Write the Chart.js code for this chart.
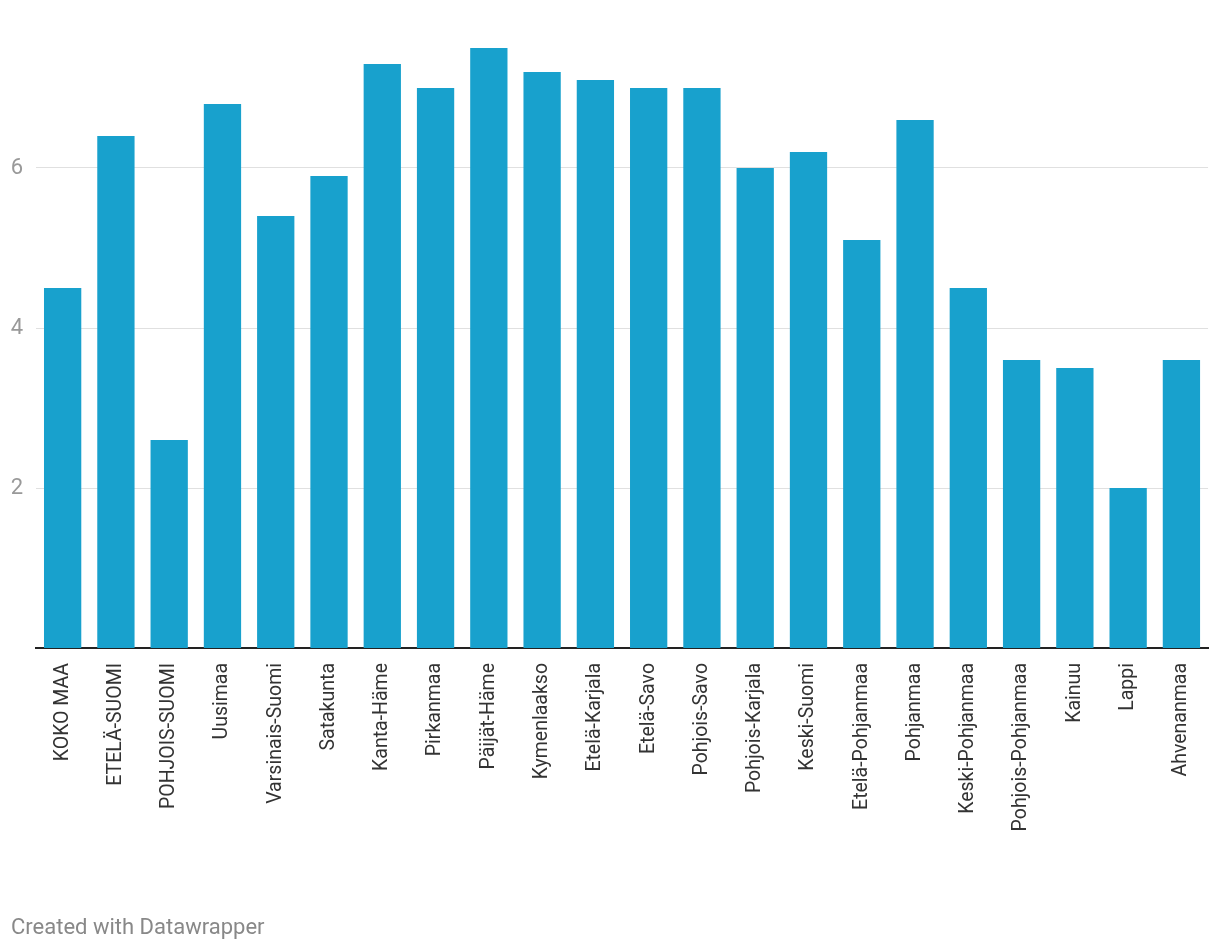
<!DOCTYPE html>
<html>
<head>
<meta charset="utf-8">
<script src="https://cdn.jsdelivr.net/npm/chart.js@4"></script>
<style>
  html, body { margin: 0; padding: 0; background: #fff; }
  #wrap { position: relative; width: 1220px; height: 952px; }
  #footer { position: absolute; left: 11px; top: 914px; font: 22px Roboto, sans-serif; color: #888; }
</style>
</head>
<body>
<div id="wrap">
  <canvas id="chart" width="1220" height="952"></canvas>
  <div id="footer">Created with Datawrapper</div>
</div>
<script>
// =======================
// Data
// =======================
const regions = [
  "KOKO MAA", "ETELÄ-SUOMI", "POHJOIS-SUOMI", "Uusimaa", "Varsinais-Suomi", "Satakunta",
  "Kanta-Häme", "Pirkanmaa", "Päijät-Häme", "Kymenlaakso", "Etelä-Karjala", "Etelä-Savo",
  "Pohjois-Savo", "Pohjois-Karjala", "Keski-Suomi", "Etelä-Pohjanmaa", "Pohjanmaa",
  "Keski-Pohjanmaa", "Pohjois-Pohjanmaa", "Kainuu", "Lappi", "Ahvenanmaa"
];
const values = [4.5, 6.4, 2.6, 6.8, 5.4, 5.9, 7.3, 7.0, 7.5, 7.2, 7.1, 7.0, 7.0, 6.0, 6.2, 5.1, 6.6, 4.5, 3.6, 3.5, 2.0, 3.6];
const yTicks = [2, 4, 6];

// =======================
// Chart
// =======================
const ctx = document.getElementById("chart").getContext("2d");
new Chart(ctx, {
  type: "bar",
  data: {
    labels: regions,
    datasets: [{ data: values, backgroundColor: "#18a1cd", barPercentage: 0.7, categoryPercentage: 1 }]
  },
  options: {
    responsive: false,
    animation: false,
    layout: { padding: { top: 48, right: 8, bottom: 0, left: 0 } },
    plugins: { legend: { display: false }, tooltip: { enabled: false } },
    scales: {
      x: {
        grid: { display: false, drawTicks: false },
        border: { color: "#222", width: 2 },
        ticks: {
          color: "#333", font: { family: "Roboto", size: 19.5 },
          minRotation: 90, maxRotation: 90, autoSkip: false, padding: 15
        },
        afterFit: s => { s.height = 304; }
      },
      y: {
        min: 0, max: 7.5,
        afterBuildTicks: s => { s.ticks = yTicks.map(v => ({ value: v })); },
        grid: { color: "#e0e0e0", lineWidth: 1, drawTicks: false },
        border: { display: false },
        ticks: { color: "#999", font: { family: "Roboto", size: 22 }, padding: 13 },
        afterFit: s => { s.width = 36; }
      }
    }
  }
});
</script>
</body>
</html>
